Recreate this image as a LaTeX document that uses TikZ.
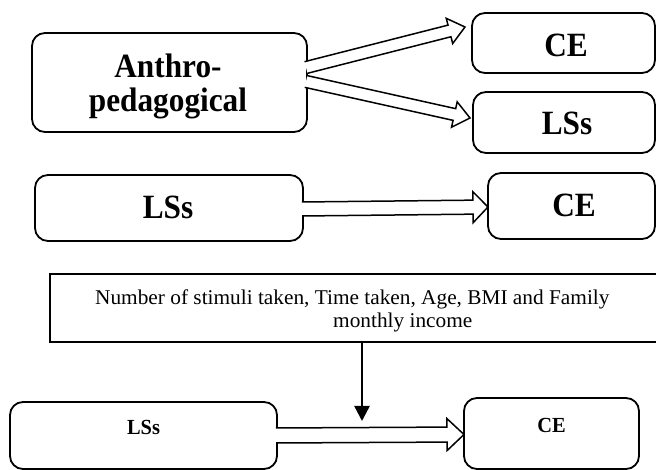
\documentclass[tikz,border=0pt]{standalone}
\usepackage{fontspec}
\setmainfont{Liberation Serif}
\newfontfamily\stretchserif[FakeStretch=0.92]{Liberation Serif}
\newfontfamily\smallserif[FakeStretch=0.95]{Liberation Serif}
\newfontfamily\wideserif[FakeStretch=1.015]{Liberation Serif}
\usetikzlibrary{calc,arrows.meta}
\tikzset{
  rbox/.style={draw, line width=1.8pt, rounded corners=13pt, inner sep=0pt, outer sep=0pt},
  sbox/.style={draw, line width=2pt, inner sep=0pt, outer sep=0pt},
  bigtxt/.style={font=\stretchserif\bfseries\fontsize{34}{34}\selectfont, inner sep=0pt, anchor=base},
  smalltxt/.style={font=\smallserif\bfseries\fontsize{21.5}{21.5}\selectfont, inner sep=0pt, anchor=base},
  regtxt/.style={font=\wideserif\fontsize{21}{21}\selectfont, inner sep=0pt, anchor=base west},
  hollow/.style={line width=1.5pt, line join=miter, fill=white}
}
% hollow block arrow from #1 to #2, shaft half width #3, head half width #4, head length #5
\newcommand\blockarrow[5]{%
  \draw[hollow] let \p1=(#1), \p2=(#2), \n1={atan2(\y2-\y1,\x2-\x1)}, \n2={veclen(\x2-\x1,\y2-\y1)} in
    [shift={(\p1)}, rotate=\n1]
    (0pt,-#3) -- ({\n2-#5},-#3) -- ({\n2-#5},-#4) -- (\n2,0pt) -- ({\n2-#5},#4) -- ({\n2-#5},#3) -- (0pt,#3);%
}
\begin{document}
\begin{tikzpicture}[x=1pt,y=1pt]
\useasboundingbox (0,0) rectangle (656,470);
% boxes
\node[rbox, minimum width=275pt, minimum height=99pt] (anthro) at (169.5,387.5) {};
\node[rbox, minimum width=183pt, minimum height=60pt] (ce1) at (563.5,427) {};
\node[rbox, minimum width=182pt, minimum height=61pt] (ls1) at (564,347.5) {};
\node[rbox, minimum width=268pt, minimum height=66pt] (ls2) at (169,262) {};
\node[rbox, minimum width=167pt, minimum height=66pt] (ce2) at (571.5,264) {};
\node[sbox, minimum width=610pt, minimum height=68pt] (factors) at (355,162) {};
\node[rbox, minimum width=267pt, minimum height=67pt] (ls3) at (143.5,34.5) {};
\node[rbox, minimum width=175pt, minimum height=71pt] (ce3) at (551.5,36.5) {};
% texts
\node[bigtxt] (t1a) at (168,392) {Anthro-};
\node[bigtxt] (t1b) at (168,358) {pedagogical};
\node[bigtxt] (t2) at (566,413) {CE};
\node[bigtxt] (t3) at (567,335) {LSs};
\node[bigtxt] (t4) at (168,251) {LSs};
\node[bigtxt] (t5) at (574,253) {CE};
\node[regtxt] (t6a) at (95,165) {Number of stimuli taken, Time taken, Age, BMI and Family};
\node[regtxt] (t6b) at (333,142) {monthly income};
\node[smalltxt] (t7) at (143.5,35) {LSs};
\node[smalltxt] (t8) at (551.5,37) {CE};
% connector end points
\coordinate (a1s) at ($(anthro.east)+(-1,15)$);
\coordinate (a1e) at ($(ce1.west)+(-7,16)$);
\coordinate (a2s) at ($(anthro.east)+(-1,1)$);
\coordinate (a2e) at ($(ls1.west)+(-3,4.5)$);
\coordinate (a3s) at ($(ls2.east)+(-1,-1)$);
\coordinate (a3e) at ($(ce2.west)+(0,-1)$);
\coordinate (a4s) at ($(ls3.east)+(-1,0)$);
\coordinate (a4e) at ($(ce3.west)+(0,-1)$);
\coordinate (down) at (362,49);
% arrows
\blockarrow{a1s}{a1e}{6pt}{13pt}{16pt}
\blockarrow{a2s}{a2e}{6pt}{13pt}{16pt}
\blockarrow{a3s}{a3e}{7pt}{15.5pt}{15pt}
\blockarrow{a4s}{a4e}{7.5pt}{16pt}{17pt}
\draw[line width=2.5pt, -{Triangle[width=15pt,length=15pt]}] (factors.south -| down) -- (down);
\end{tikzpicture}
\end{document}
